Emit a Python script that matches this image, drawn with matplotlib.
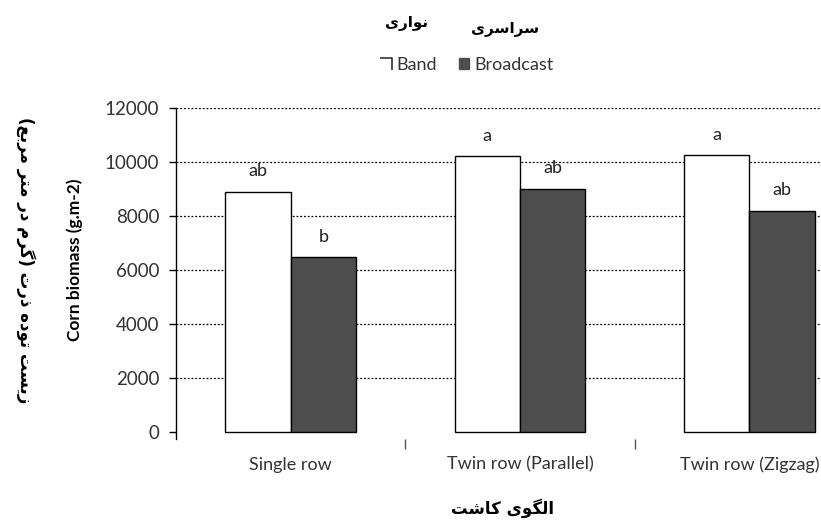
import matplotlib.pyplot as plt
import numpy as np
from matplotlib.patches import Patch
from matplotlib.lines import Line2D
from matplotlib.path import Path

categories = ['Single row', 'Twin row (Parallel)', 'Twin row (Zigzag)']
band = [8890, 10220, 10250]
broadcast = [6480, 9000, 8190]
band_letters = ['ab', 'a', 'a']
broadcast_letters = ['b', 'ab', 'ab']
yticks = [0, 2000, 4000, 6000, 8000, 10000, 12000]

# persian text needs shaping by hand (no bidi support in matplotlib)
FORMS = {
    'ا': ('\uFE8D', '\uFE8E', None, None),
    'ب': ('\uFE8F', '\uFE90', '\uFE91', '\uFE92'),
    'ت': ('\uFE95', '\uFE96', '\uFE97', '\uFE98'),
    'د': ('\uFEA9', '\uFEAA', None, None),
    'ذ': ('\uFEAB', '\uFEAC', None, None),
    'ر': ('\uFEAD', '\uFEAE', None, None),
    'ز': ('\uFEAF', '\uFEB0', None, None),
    'س': ('\uFEB1', '\uFEB2', '\uFEB3', '\uFEB4'),
    'ش': ('\uFEB5', '\uFEB6', '\uFEB7', '\uFEB8'),
    'ع': ('\uFEC9', '\uFECA', '\uFECB', '\uFECC'),
    'ل': ('\uFEDD', '\uFEDE', '\uFEDF', '\uFEE0'),
    'م': ('\uFEE1', '\uFEE2', '\uFEE3', '\uFEE4'),
    'ن': ('\uFEE5', '\uFEE6', '\uFEE7', '\uFEE8'),
    'ه': ('\uFEE9', '\uFEEA', '\uFEEB', '\uFEEC'),
    'و': ('\uFEED', '\uFEEE', None, None),
    'ک': ('\uFB8E', '\uFB8F', '\uFB90', '\uFB91'),
    'گ': ('\uFB92', '\uFB93', '\uFB94', '\uFB95'),
    'ی': ('\uFBFC', '\uFBFD', '\uFBFE', '\uFBFF'),
}


def fa(s):
    out = []
    for i, c in enumerate(s):
        if c not in FORMS:
            out.append(c)
            continue
        prev = s[i - 1] if i > 0 else ''
        nxt = s[i + 1] if i < len(s) - 1 else ''
        join_prev = prev in FORMS and FORMS[prev][2] is not None
        join_next = FORMS[c][2] is not None and nxt in FORMS
        f = FORMS[c]
        if join_prev and join_next:
            out.append(f[3])
        elif join_prev:
            out.append(f[1])
        elif join_next:
            out.append(f[2])
        else:
            out.append(f[0])
    r = ''.join(out)[::-1]
    return r.translate(str.maketrans('()', ')('))


plt.rcParams['font.family'] = ['Lato', 'DejaVu Sans']

fig = plt.figure(figsize=(8.21, 5.2), dpi=100)
ax = fig.add_axes([0.2144, 0.1563, 0.838, 0.636])

x = np.arange(len(categories))
w = 0.285
ax.bar(x - w / 2, band, w, color='white', edgecolor='black', linewidth=1, zorder=3)
ax.bar(x + w / 2, broadcast, w, color='#4d4d4d', edgecolor='black', linewidth=1, zorder=3)

for i in range(len(categories)):
    ax.annotate(band_letters[i], (x[i] - w / 2, band[i]), xytext=(0, 9),
                textcoords='offset points', ha='center', va='bottom', fontsize=13, color='#222222')
    ax.annotate(broadcast_letters[i], (x[i] + w / 2, broadcast[i]), xytext=(0, 9),
                textcoords='offset points', ha='center', va='bottom', fontsize=13, color='#222222')

for v in yticks[1:]:
    ax.axhline(v, color='black', linestyle=(0, (1.5, 1.5)), linewidth=0.9, zorder=1)

ax.set_xlim(-0.5, 2.5)
ax.set_ylim(-250, 12000)
ax.set_yticks(yticks)
ax.set_xticks(x)
ax.set_xticklabels(categories, fontsize=13, color='#333333')
ax.set_xticks([0.5, 1.5], minor=True)
ax.tick_params(axis='x', which='major', length=0, pad=13)
ax.tick_params(axis='x', which='minor', length=7, width=1, color='#555555')
ax.tick_params(axis='y', length=5, width=1, labelsize=13.5, labelcolor='#333333', pad=7)

for s in ['top', 'right', 'bottom']:
    ax.spines[s].set_visible(False)
ax.spines['left'].set_linewidth(1)

ax.set_ylabel('Corn biomass (g.m-2)', fontsize=12.5, fontweight='bold')
ax.yaxis.set_label_coords(-0.135, 0.54)

fig.text(0.031, 0.5, fa('زیست توده ذرت (گرم در متر مربع)'), rotation=-90,
         ha='center', va='center', fontsize=12, fontweight='bold', family='DejaVu Sans')
fig.text(0.612, 0.022, fa('الگوی کاشت'), ha='center', va='center',
         fontsize=12, fontweight='bold', family='DejaVu Sans')
fig.text(0.495, 0.955, fa('نواری'), ha='center', va='center',
         fontsize=11, fontweight='bold', family='DejaVu Sans')
fig.text(0.615, 0.946, fa('سراسری'), ha='center', va='center',
         fontsize=11, fontweight='bold', family='DejaVu Sans')

# the band key in the original only shows the top and right edges
corner = Path([(-1, 1), (1, 1), (1, -1)], [Path.MOVETO, Path.LINETO, Path.LINETO])
handles = [Line2D([], [], marker=corner, linestyle='none', markersize=8,
                  markeredgecolor='#333333', markerfacecolor='none', markeredgewidth=1.2,
                  label='Band'),
           Patch(facecolor='#4d4d4d', edgecolor='#4d4d4d', label='Broadcast')]
fig.legend(handles=handles, loc='center', bbox_to_anchor=(0.569, 0.875), ncol=2,
           frameon=False, fontsize=13, handlelength=0.6, handleheight=0.6,
           handletextpad=0.3, columnspacing=1.2, labelcolor='#333333')

fig.savefig('out.png', dpi=100)
